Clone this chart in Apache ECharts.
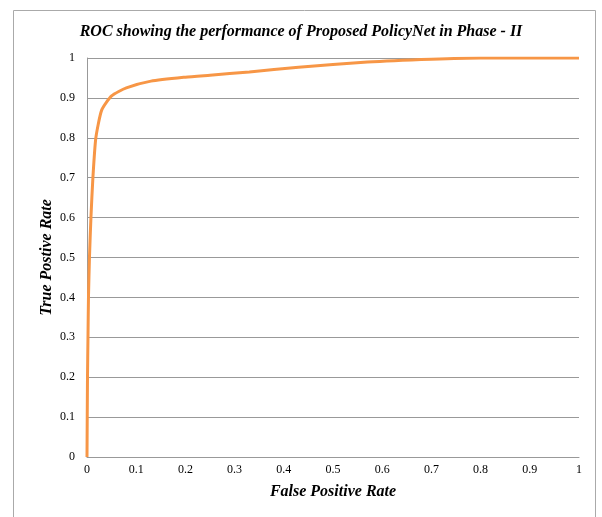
<!DOCTYPE html>
<html><head><meta charset="utf-8">
<script src="https://cdn.jsdelivr.net/npm/echarts@6/dist/echarts.min.js"></script>
<style>html,body{margin:0;padding:0;background:#fff}#c{width:602px;height:517px}</style>
</head><body><div id="c"></div>
<script>
var fpr = [0, 0.001, 0.002, 0.003, 0.005, 0.008, 0.012, 0.018, 0.03, 0.05, 0.08, 0.13, 0.2, 0.25, 0.33, 0.43, 0.57, 0.7, 0.8, 1];
var tpr = [0, 0.2, 0.3, 0.4, 0.5, 0.6, 0.7, 0.8, 0.87, 0.905, 0.925, 0.942, 0.952, 0.957, 0.965, 0.977, 0.99, 0.997, 1, 1];
var data = fpr.map(function(x,i){return [x,tpr[i]];});
var serif = '"Liberation Serif", "DejaVu Serif", serif';
var chart = echarts.init(document.getElementById('c'));
chart.setOption({
  animation:false,
  title:{text:'ROC showing the performance of Proposed PolicyNet in Phase - II',left:'center',top:19,
    textStyle:{fontFamily:serif,fontStyle:'italic',fontWeight:'bold',fontSize:16,color:'#000'}},
  graphic:[{type:'rect',shape:{x:13.5,y:10.5,width:582,height:520},style:{fill:'none',stroke:'#aaa',lineWidth:1},silent:true}],
  grid:{left:87,right:23,top:58,bottom:60},
  xAxis:{type:'value',min:0,max:1,interval:0.1,
    name:'False Positive Rate',nameLocation:'middle',nameGap:27,
    nameTextStyle:{fontFamily:serif,fontStyle:'italic',fontWeight:'bold',fontSize:16,color:'#000'},
    axisLine:{show:true,lineStyle:{color:'#999'}},axisTick:{show:false},splitLine:{show:false},
    axisLabel:{fontFamily:serif,fontSize:12,color:'#000',margin:7}},
  yAxis:{type:'value',min:0,max:1,interval:0.1,
    name:'True Postive Rate',nameLocation:'middle',nameGap:32,nameMoveOverlap:false,
    nameTextStyle:{fontFamily:serif,fontStyle:'italic',fontWeight:'bold',fontSize:16,color:'#000'},
    axisLine:{show:true,lineStyle:{color:'#999'}},axisTick:{show:false},
    splitLine:{show:true,lineStyle:{color:'#999',width:1}},
    axisLabel:{fontFamily:serif,fontSize:12,color:'#000',margin:12}},
  series:[{type:'line',data:data,showSymbol:false,smooth:0.2,
    lineStyle:{color:'#F79646',width:3},itemStyle:{color:'#F79646'}}]
});
</script></body></html>
